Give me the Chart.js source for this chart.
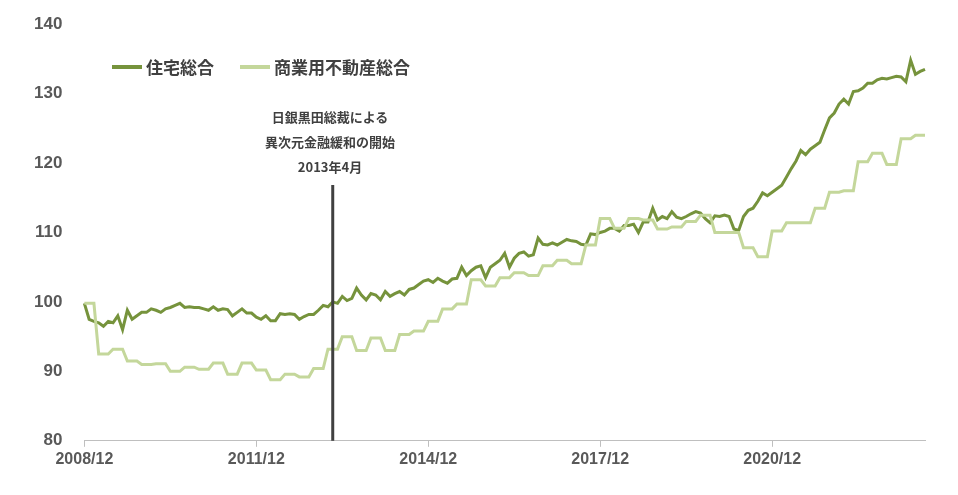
<!DOCTYPE html>
<html><head><meta charset="utf-8">
<script src="https://cdn.jsdelivr.net/npm/chart.js@4"></script>
<style>
body{margin:0;background:#fff;font-family:"Noto Sans CJK JP",sans-serif}
#wrap{position:relative;width:958px;height:495px}
#legend{position:absolute;left:112px;top:54px;font-size:17px;font-weight:bold;color:#404040;display:flex;gap:26px}
#legend span{display:inline-flex;align-items:center}
#legend i{display:inline-block;width:30px;height:4px;margin-right:4px}
#note{position:absolute;left:230px;top:104px;width:200px;text-align:center;font-size:13px;font-weight:bold;color:#404040;line-height:25px}
</style></head>
<body><div id="wrap"><canvas id="c" width="958" height="495"></canvas>
<div id="legend"><span><i style="background:#76933c"></i>住宅総合</span><span><i style="background:#c4d79b"></i>商業用不動産総合</span></div>
<div id="note">日銀黒田総裁による<br>異次元金融緩和の開始<br>2013年4月</div></div>
<script>
const residential = [99.8,
97.5,97.2,97.0,96.5,97.2,97.0,98.0,96.0,98.8,97.5,98.0,98.5,
98.5,99.0,98.8,98.5,99.0,99.2,99.5,99.8,99.2,99.3,99.2,99.2,
99.0,98.8,99.3,98.8,99.0,98.9,98.0,98.5,99.0,98.4,98.4,97.8,
97.5,98.0,97.3,97.3,98.3,98.2,98.3,98.2,97.5,97.9,98.2,98.2,
98.8,99.5,99.3,100.0,99.8,100.8,100.2,100.5,102.0,101.0,100.3,101.2,
101.0,100.3,101.5,100.8,101.2,101.5,101.0,101.8,102.0,102.5,103.0,103.2,
102.8,103.4,103.0,102.7,103.3,103.4,105.0,103.8,104.5,105.0,105.2,103.5,
105.0,105.5,106.0,107.0,105.0,106.3,107.0,107.2,106.6,106.8,109.2,108.3,
108.2,108.5,108.2,108.6,109.0,108.8,108.7,108.3,108.2,109.8,109.7,110.0,
110.2,110.6,110.6,110.2,111.0,111.0,111.2,110.0,111.5,111.5,113.5,111.8,
112.3,112.0,113.0,112.2,112.0,112.3,112.7,113.0,112.8,112.0,111.4,112.4,
112.3,112.5,112.3,110.5,110.3,112.3,113.2,113.5,114.5,115.7,115.3,115.8,
116.3,116.8,118.0,119.2,120.3,121.8,121.2,122.0,122.5,123.0,124.8,126.5,
127.2,128.5,129.2,128.5,130.3,130.4,130.8,131.5,131.5,132.0,132.2,132.1,
132.3,132.5,132.4,131.7,134.8,132.8,133.2,133.5];
// 商業用: 四半期ごとの値(3か月据え置き)
const commercialHead = [99.8, 99.8, 99.8];
const commercialQuarterly = [92.5,93.2,91.5,91.0,91.1,90.0,90.6,90.3,91.2,89.6,91.2,90.2,
88.8,89.6,89.2,90.4,93.2,95.0,93.0,94.8,93.0,95.3,95.8,97.2,99.0,99.7,103.2,102.3,
103.5,104.2,103.8,105.2,106.0,105.5,108.2,112.0,110.6,112.0,111.8,110.5,110.8,111.6,
112.5,110.0,110.0,107.8,106.5,110.2,111.4,111.4,113.5,115.8,116.0,120.2,121.4,119.8,
123.5,124.0];
const labels = [];
for (let i = 0; i < residential.length; i++) {
  const m = 11 + i, y = 2008 + Math.floor(m / 12), mm = (m % 12) + 1;
  labels.push(y + "/" + mm);
}
const tickIdx = [0, 36, 72, 108, 144];
const tickLabels = ["2008/12", "2011/12", "2014/12", "2017/12", "2020/12"];
const kurodaIdx = 52;

const commercial = commercialHead.slice();
commercialQuarterly.forEach(v => commercial.push(v, v, v));
commercial.length = residential.length;

const vline = {
  id: "vline",
  afterDatasetsDraw(chart) {
    const x = chart.scales.x.getPixelForValue(kurodaIdx);
    const ctx = chart.ctx, b = chart.chartArea.bottom;
    ctx.save();
    ctx.strokeStyle = "#404040";
    ctx.lineWidth = 3;
    ctx.beginPath(); ctx.moveTo(x, 185); ctx.lineTo(x, b); ctx.stroke();
    ctx.restore();
  }
};

new Chart(document.getElementById("c"), {
  type: "line",
  data: {
    labels,
    datasets: [
      { label: "商業用不動産総合", data: commercial, borderColor: "#c4d79b", borderWidth: 3, pointRadius: 0, tension: 0 },
      { label: "住宅総合", data: residential, borderColor: "#76933c", borderWidth: 3, pointRadius: 0, tension: 0 }
    ]
  },
  options: {
    responsive: false, animation: false,
    layout: { padding: { left: 20, right: 33, top: 22, bottom: 23 } },
    plugins: { legend: { display: false }, tooltip: { enabled: false } },
    scales: {
      x: {
        ticks: {
          autoSkip: false, maxRotation: 0, color: "#595959",
          font: { size: 16, weight: "bold", family: "Liberation Sans" },
          callback: (v, i) => { const k = tickIdx.indexOf(i); return k >= 0 ? tickLabels[k] : null; }
        },
        grid: { drawOnChartArea: false, tickLength: 6, color: "#bfbfbf" },
        border: { color: "#bfbfbf" }
      },
      y: {
        min: 80, max: 140,
        ticks: { stepSize: 10, color: "#595959", padding: 14, font: { size: 17, weight: "bold", family: "Liberation Sans" } },
        grid: { display: false },
        border: { display: false }
      }
    }
  },
  plugins: [vline]
});
</script></body></html>
